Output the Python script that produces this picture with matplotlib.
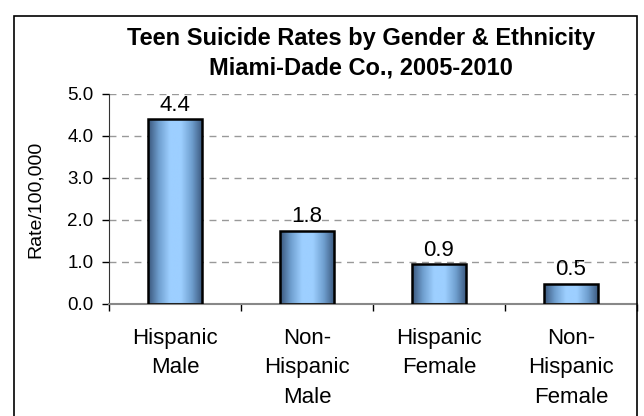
import numpy as np
import matplotlib.pyplot as plt
from matplotlib.colors import LinearSegmentedColormap
from matplotlib.patches import Rectangle

plt.rcParams['font.family'] = ['Liberation Sans', 'DejaVu Sans']

# --- data ---
categories = ['Hispanic\nMale', 'Non-\nHispanic\nMale', 'Hispanic\nFemale', 'Non-\nHispanic\nFemale']
rates = [4.4, 1.75, 0.95, 0.48]
rate_labels = ['4.4', '1.8', '0.9', '0.5']
y_ticks = [0.0, 1.0, 2.0, 3.0, 4.0, 5.0]

fig = plt.figure(figsize=(6.44, 4.16), dpi=100)
ax = fig.add_axes([109 / 644, 1 - 304 / 416, (637 - 109) / 644, (304 - 94) / 416])

# outer chart border (bottom runs off the image)
fig.patches.append(Rectangle((14 / 644, -0.05), (637 - 14) / 644, 1.05 - 16 / 416,
                             transform=fig.transFigure, fill=False,
                             edgecolor='black', linewidth=1.2))

x = np.arange(len(categories))
bar_w = 0.41
bars = ax.bar(x, rates, width=bar_w, facecolor='none', edgecolor='black',
              linewidth=1.8, zorder=3)

# horizontal gradient inside each bar
grad_cmap = LinearSegmentedColormap.from_list(
    'bargrad', ['#38557a', '#6f9fcf', '#9dcfff', '#9dcfff', '#6f9fcf', '#38557a'])
grad = np.linspace(0, 1, 256).reshape(1, -1)
for b in bars:
    im = ax.imshow(grad, cmap=grad_cmap, aspect='auto', zorder=2,
                   extent=[b.get_x(), b.get_x() + b.get_width(), 0, b.get_height()])
    im.set_clip_path(b)

for xi, h, lab in zip(x, rates, rate_labels):
    ax.text(xi, h + 0.08, lab, ha='center', va='bottom', fontsize=16)

ax.set_xlim(-0.5, len(categories) - 0.5)
ax.set_ylim(0, 5)
ax.set_yticks(y_ticks)
ax.set_yticklabels([f'{v:.1f}' for v in y_ticks], fontsize=13.5)
ax.set_ylabel('Rate/100,000', fontsize=14, labelpad=17)

# category labels between boundary ticks
ax.set_xticks(np.arange(len(categories) + 1) - 0.5)
ax.set_xticklabels([])
ax.set_xticks(x, minor=True)
ax.set_xticklabels(categories, minor=True, fontsize=16, linespacing=1.55)
ax.tick_params(axis='x', which='minor', length=0, pad=17)
ax.tick_params(axis='x', which='major', length=5, width=1, color='black')
ax.tick_params(axis='y', length=5, width=1, color='black', pad=6)

ax.grid(axis='y', linestyle=(0, (5, 4)), color='#999999', linewidth=1, zorder=0)
ax.set_axisbelow(True)

for s in ['top', 'right']:
    ax.spines[s].set_visible(False)
ax.spines['left'].set_color('#333333')
ax.spines['bottom'].set_color('#888888')
ax.spines['bottom'].set_linewidth(1.5)

fig.text(361 / 644, 1 - 38 / 416, 'Teen Suicide Rates by Gender & Ethnicity',
         ha='center', va='center', fontsize=17, fontweight='bold')
fig.text(361 / 644, 1 - 68 / 416, 'Miami-Dade Co., 2005-2010',
         ha='center', va='center', fontsize=17, fontweight='bold')

fig.savefig('out.png', dpi=100)
